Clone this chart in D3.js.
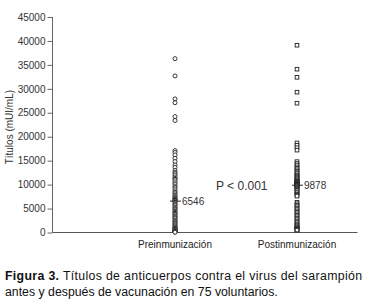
<!DOCTYPE html>
<html>
<head>
<meta charset="utf-8">
<script src="https://cdn.jsdelivr.net/npm/d3@7"></script>
<style>
  body { margin: 0; background: #fff; }
  svg { font-family: "Liberation Sans", Arial, sans-serif; }
</style>
</head>
<body>
<svg id="chart" width="367" height="303"></svg>
<script>
  // titulos (mUI/mL), 75 voluntarios
  var groups = ["Preinmunización", "Postinmunización"]
  var pre = [36300, 32700, 27900, 27100, 24200, 23400, 17100, 16700, 16200, 15500, 14800, 14100,
    13600, 13000, 12600, 12300, 12000, 11600, 11300, 11100, 10800, 10400, 10100, 9700, 9400,
    9100, 8700, 8400, 8100, 7800, 7600, 7300, 7100, 6900, 6800, 6700, 6600, 6546, 6300, 6000,
    5800, 5600, 5300, 5100, 4900, 4700, 4400, 4200, 4000, 3800, 3500, 3300, 3100, 2900, 2600,
    2400, 2200, 2000, 1800, 1600, 1400, 1200, 1000, 900, 800, 700, 600, 500, 400, 300, 250,
    200, 150, 100, 50]
  var post = [39100, 34100, 32400, 29300, 27000, 18700, 18200, 17700, 17200, 14800, 14400,
    14100, 13700, 13400, 13100, 12800, 12500, 12300, 12000, 11800, 11600, 11400, 11200, 11000,
    10800, 10700, 10600, 10500, 10400, 10300, 10200, 10100, 10050, 10000, 9950, 9900, 9890,
    9878, 9800, 9600, 9400, 9200, 9000, 8800, 8500, 8300, 8000, 7800, 7600, 6300, 6000, 5700,
    5400, 5100, 4800, 4500, 4200, 3900, 3600, 3300, 3000, 2700, 2400, 2100, 1800, 1600, 1400,
    1200, 1000, 900, 800, 700, 600, 550, 500]
  var medians = [6546, 9878]
  var yTicks = [0, 5000, 10000, 15000, 20000, 25000, 30000, 35000, 40000, 45000]
  var pText = "P < 0.001"
  var captionBold = "Figura 3."
  var captionLine1 = " Títulos de anticuerpos contra el virus del sarampión"
  var captionLine2 = "antes y después de vacunación en 75 voluntarios."

  svg = d3.select('#chart')
  margin = {top: 17, left: 52.5}
  plotW = 305
  plotH = 215.5

  yScale = d3.scaleLinear().domain([0, 45000]).range([margin.top + plotH, margin.top])
  xScale = d3.scalePoint().domain(groups).range([175, 297])

  // eje y
  yAxis = svg.append('g')
    .attr('transform', 'translate(' + margin.left + ',0)')
    .call(d3.axisLeft(yScale).tickValues(yTicks).tickSize(5).tickPadding(2).tickFormat(d3.format('d')))
  yAxis.select('.domain').attr('stroke', '#666').attr('d', 'M0,' + yScale(45000) + 'V' + yScale(0))
  yAxis.selectAll('.tick line').attr('stroke', '#666')
  yAxis.selectAll('.tick text').style('font-size', '10px').style('fill', '#333').attr('font-family', null)

  // eje x
  svg.append('line')
    .attr('x1', margin.left).attr('x2', margin.left + plotW)
    .attr('y1', yScale(0)).attr('y2', yScale(0))
    .style('stroke', '#555').style('stroke-width', 1)

  svg.selectAll('.grpLabel').data(groups)
    .enter().append('text')
    .attr('class', 'grpLabel')
    .attr('x', function(d){ return xScale(d) })
    .attr('y', 248)
    .attr('text-anchor', 'middle')
    .style('font-size', '10px')
    .style('fill', '#222')
    .text(function(d){ return d })

  svg.append('text')
    .attr('transform', 'translate(13,' + (yScale(22000)) + ') rotate(-90)')
    .attr('text-anchor', 'middle')
    .style('font-size', '10px')
    .style('fill', '#333')
    .text('Títulos (mUI/mL)')

  // puntos preinmunizacion
  svg.selectAll('.pre').data(pre)
    .enter().append('circle')
    .attr('class', 'pre')
    .attr('cx', xScale(groups[0]))
    .attr('cy', function(d){ return yScale(d) })
    .attr('r', 2)
    .attr('fill', 'white')
    .attr('stroke', '#222')
    .attr('stroke-width', 0.9)

  // puntos postinmunizacion
  svg.selectAll('.post').data(post)
    .enter().append('rect')
    .attr('class', 'post')
    .attr('x', xScale(groups[1]) - 1.8)
    .attr('y', function(d){ return yScale(d) - 1.8 })
    .attr('width', 3.6)
    .attr('height', 3.6)
    .attr('fill', 'white')
    .attr('stroke', '#222')
    .attr('stroke-width', 0.9)

  // medianas
  medians.forEach(function(m, i){
    cx = xScale(groups[i])
    svg.append('line')
      .attr('x1', cx - 5).attr('x2', cx + 6)
      .attr('y1', yScale(m)).attr('y2', yScale(m))
      .style('stroke', '#333').style('stroke-width', 1)
    svg.append('text')
      .attr('x', cx + 7)
      .attr('y', yScale(m) + 3.5)
      .style('font-size', '10px')
      .style('fill', '#333')
      .text(m)
  })

  svg.append('text')
    .attr('x', 216)
    .attr('y', 190)
    .style('font-size', '12px')
    .style('fill', '#333')
    .text(pText)

  // leyenda (primera linea justificada)
  cap1 = svg.append('text')
    .attr('x', 5)
    .attr('y', 280)
    .attr('textLength', 357)
    .attr('lengthAdjust', 'spacing')
    .style('font-size', '12.3px')
    .style('fill', '#111')
  cap1.append('tspan').style('font-weight', 'bold').text(captionBold)
  cap1.append('tspan').text(captionLine1)

  svg.append('text')
    .attr('x', 5)
    .attr('y', 296)
    .style('font-size', '12.3px')
    .style('fill', '#111')
    .text(captionLine2)
</script>
</body>
</html>
